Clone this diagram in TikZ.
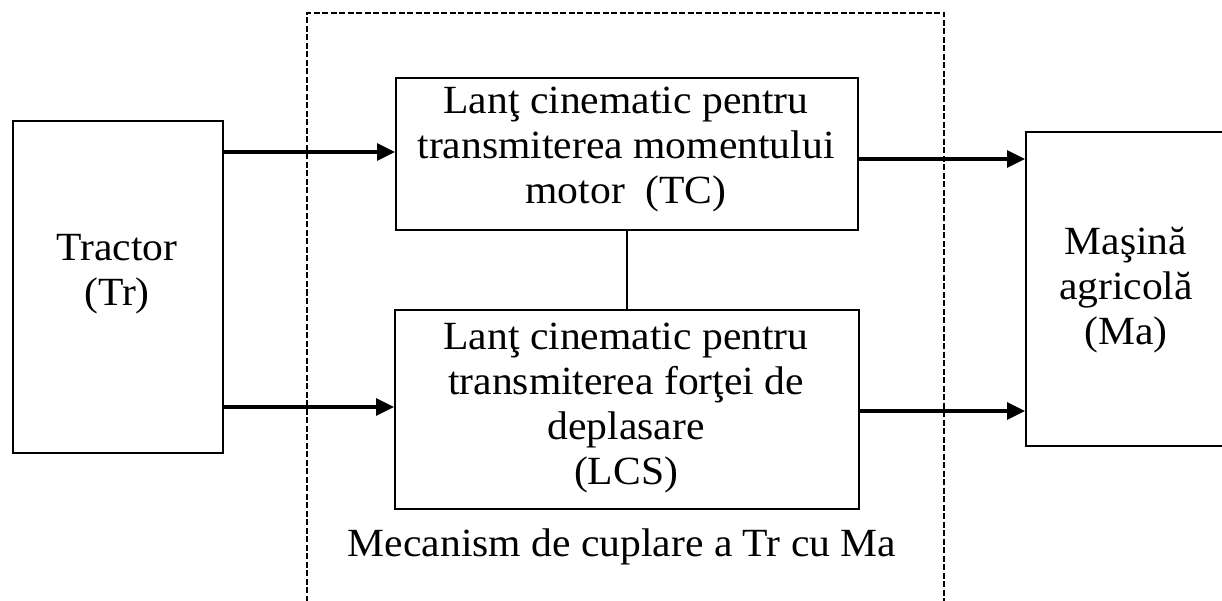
\documentclass[tikz,border=0pt]{standalone}
\usepackage{fontspec}
\setmainfont[FakeStretch=1.04]{Liberation Serif}
\usetikzlibrary{arrows.meta,calc}
\begin{document}
\begin{tikzpicture}[x=1pt,y=-1pt,
  blk/.style={draw,line width=2pt,inner sep=0pt,align=center},
  txt/.style={font=\fontsize{40}{45}\selectfont,align=center,inner sep=0pt},
  arr/.style={line width=3.2pt,-{Triangle[length=18pt,width=17pt]}},
  link/.style={line width=2.6pt},
  frame/.style={line width=2.2pt,dash pattern=on 6pt off 2.5pt}]
\useasboundingbox (0,0) rectangle (1222,601);
\clip (0,0) rectangle (1222,601);
% outer dashed frame (open at bottom)
\draw[frame] (307,610) -- (307,13) -- (944,13) -- (944,610);
% boxes
\node[blk,minimum width=210pt,minimum height=332pt,anchor=north west] (Tr) at (12,120) {};
\node[txt] (Trt) at (117,274) {Tractor\\(Tr)};
\node[blk,minimum width=230pt,minimum height=314pt,anchor=north west] (Ma) at (1025,131) {};
\node[txt] (Mat) at (1126,290) {Maşină\\agricolă\\(Ma)};
\node[blk,minimum width=462pt,minimum height=152pt,anchor=north west] (TC) at (395,77) {};
\node[txt] (TCt) at (626,150) {Lanţ cinematic pentru\\transmiterea momentului\\motor~ (TC)};
\node[blk,minimum width=464pt,minimum height=199pt,anchor=north west] (LCS) at (394,309) {};
\node[txt] (LCSt) at (626,408) {Lanţ cinematic pentru\\transmiterea forţei de\\deplasare\\(LCS)};
\node[txt] (lab) at (622,547) {Mecanism de cuplare a Tr cu Ma};
% connectors
\draw[link] (TC.south) -- (LCS.north);
\draw[arr] (Tr.east |- 0,152) -- (TC.west |- 0,152);
\draw[arr] (Tr.east |- 0,407) -- (LCS.west |- 0,407);
\draw[arr] (TC.east |- 0,159) -- (Ma.west |- 0,159);
\draw[arr] (LCS.east |- 0,411) -- (Ma.west |- 0,411);
\end{tikzpicture}
\end{document}
